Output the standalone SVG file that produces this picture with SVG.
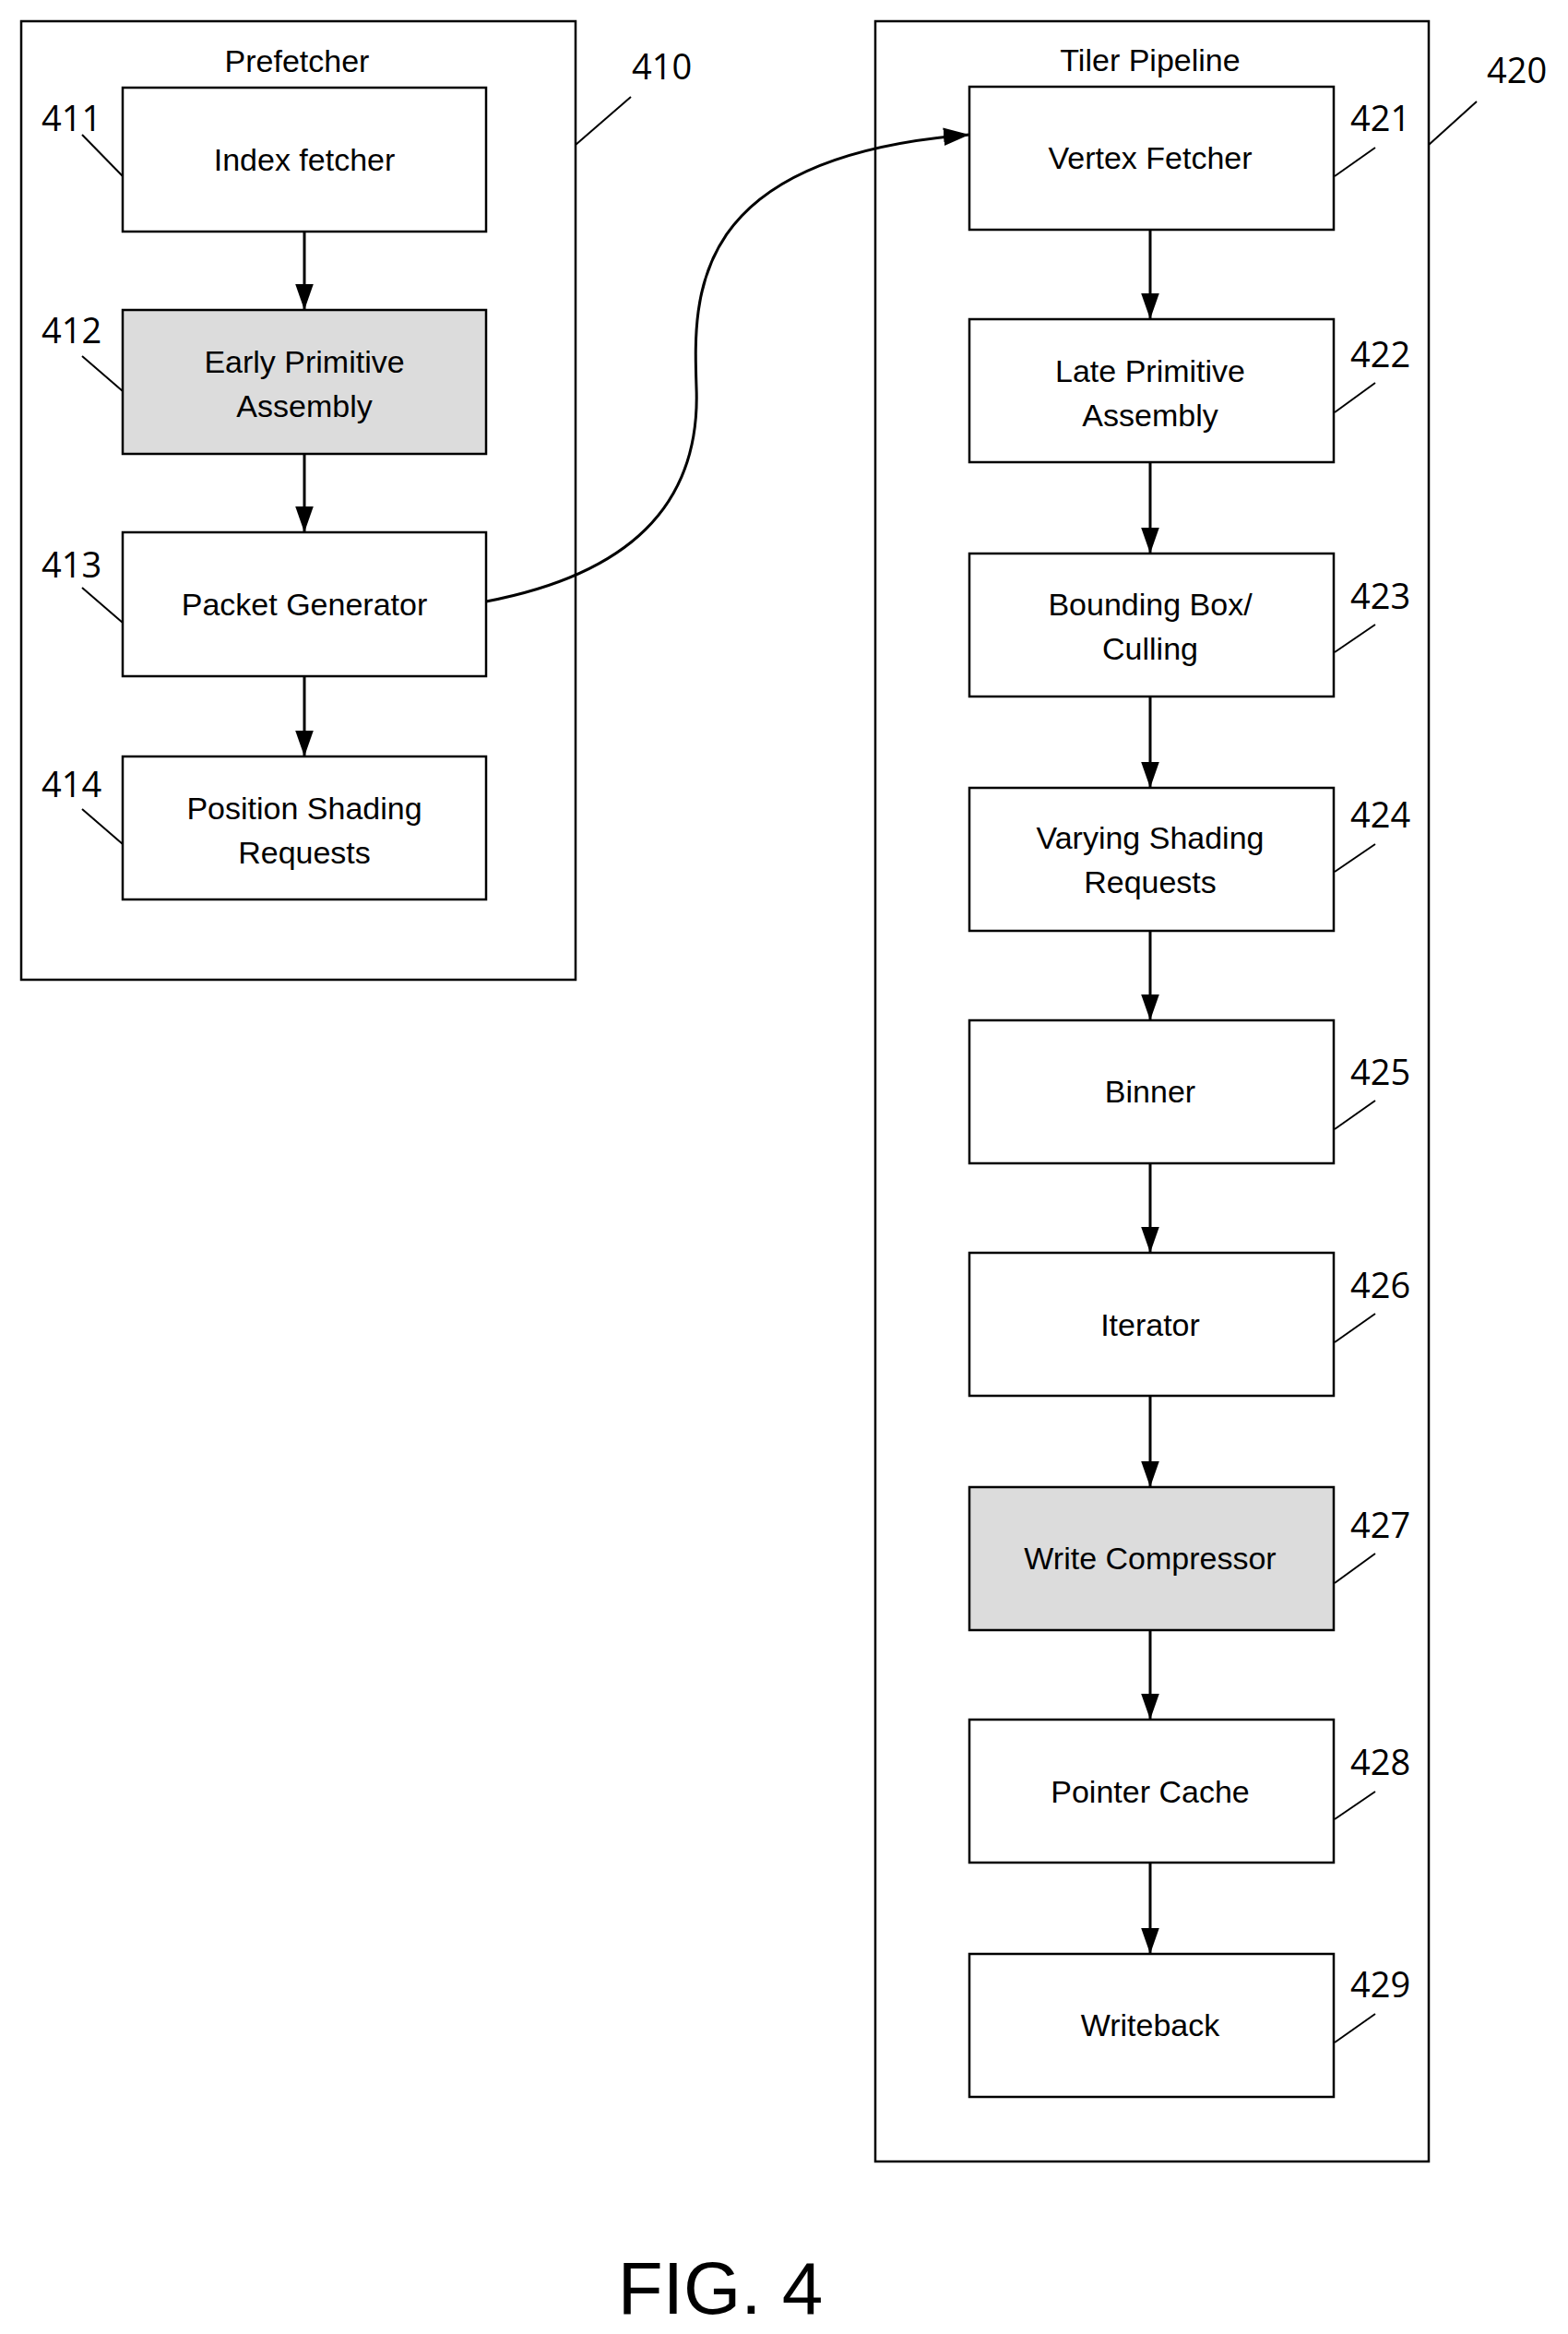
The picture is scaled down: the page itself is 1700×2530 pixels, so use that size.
<svg xmlns="http://www.w3.org/2000/svg" width="1700" height="2530" viewBox="0 0 1700 2530">
<style>
.box{fill:#fff;stroke:#000;stroke-width:2.5}
.gray{fill:#dcdcdc}
.t{font-family:"Liberation Sans",Arial,sans-serif;font-size:34px;text-anchor:middle;fill:#000}
.n{font-family:"Open Sans","DejaVu Sans",sans-serif;font-size:38px;fill:#000}
.ld{stroke:#000;stroke-width:2;fill:none}
.c{stroke:#000;stroke-width:3;fill:none}
</style>
<defs><marker id="ah" viewBox="0 0 10 10" refX="10" refY="5" markerWidth="9" markerHeight="9" markerUnits="userSpaceOnUse" orient="auto"><path d="M0,0L10,5L0,10z"/></marker>
<marker id="a" viewBox="0 0 10 10" refX="10" refY="5" markerWidth="28" markerHeight="28" markerUnits="userSpaceOnUse" orient="auto"><path d="M0,1.5L10,5L0,8.5z"/></marker></defs>
<rect fill="#fff" width="1700" height="2530"/>
<g id="prefetcher"><rect class="box" x="23" y="23" width="601" height="1039"/><text class="t" x="322" y="78">Prefetcher</text><text class="n" x="685" y="86">410</text><line class="ld" x1="684" y1="105" x2="624" y2="157"/></g>
<g id="tiler"><rect class="box" x="949" y="23" width="600" height="2320"/><text class="t" x="1247" y="77">Tiler Pipeline</text><text class="n" x="1612" y="90">420</text><line class="ld" x1="1601" y1="110" x2="1549" y2="157"/></g>
<g id="n411"><rect class="box" x="133" y="95" width="394" height="156"/><text class="t" x="330" y="185">Index fetcher</text><text class="n" x="45" y="142">411</text><line class="ld" x1="89" y1="146" x2="133" y2="191"/></g>
<g id="n412"><rect class="box gray" x="133" y="336" width="394" height="156"/><text class="t" x="330" y="404">Early Primitive</text><text class="t" x="330" y="452">Assembly</text><text class="n" x="45" y="372">412</text><line class="ld" x1="89" y1="386" x2="133" y2="424"/></g>
<g id="n413"><rect class="box" x="133" y="577" width="394" height="156"/><text class="t" x="330" y="667">Packet Generator</text><text class="n" x="45" y="626">413</text><line class="ld" x1="89" y1="637" x2="133" y2="675"/></g>
<g id="n414"><rect class="box" x="133" y="820" width="394" height="155"/><text class="t" x="330" y="888">Position Shading</text><text class="t" x="330" y="936">Requests</text><text class="n" x="45" y="864">414</text><line class="ld" x1="89" y1="877" x2="133" y2="915"/></g>
<g id="n421"><rect class="box" x="1051" y="94" width="395" height="155"/><text class="t" x="1247" y="183">Vertex Fetcher</text><text class="n" x="1464" y="142">421</text><line class="ld" x1="1491" y1="160" x2="1447" y2="191"/></g>
<g id="n422"><rect class="box" x="1051" y="346" width="395" height="155"/><text class="t" x="1247" y="414">Late Primitive</text><text class="t" x="1247" y="462">Assembly</text><text class="n" x="1464" y="398">422</text><line class="ld" x1="1491" y1="415" x2="1447" y2="447"/></g>
<g id="n423"><rect class="box" x="1051" y="600" width="395" height="155"/><text class="t" x="1247" y="667">Bounding Box/</text><text class="t" x="1247" y="715">Culling</text><text class="n" x="1464" y="660">423</text><line class="ld" x1="1491" y1="677" x2="1447" y2="707"/></g>
<g id="n424"><rect class="box" x="1051" y="854" width="395" height="155"/><text class="t" x="1247" y="920">Varying Shading</text><text class="t" x="1247" y="968">Requests</text><text class="n" x="1464" y="897">424</text><line class="ld" x1="1491" y1="915" x2="1447" y2="945"/></g>
<g id="n425"><rect class="box" x="1051" y="1106" width="395" height="155"/><text class="t" x="1247" y="1195">Binner</text><text class="n" x="1464" y="1176">425</text><line class="ld" x1="1491" y1="1193" x2="1447" y2="1224"/></g>
<g id="n426"><rect class="box" x="1051" y="1358" width="395" height="155"/><text class="t" x="1247" y="1448">Iterator</text><text class="n" x="1464" y="1407">426</text><line class="ld" x1="1491" y1="1424" x2="1447" y2="1455"/></g>
<g id="n427"><rect class="box gray" x="1051" y="1612" width="395" height="155"/><text class="t" x="1247" y="1701">Write Compressor</text><text class="n" x="1464" y="1667">427</text><line class="ld" x1="1491" y1="1684" x2="1447" y2="1716"/></g>
<g id="n428"><rect class="box" x="1051" y="1864" width="395" height="155"/><text class="t" x="1247" y="1954">Pointer Cache</text><text class="n" x="1464" y="1924">428</text><line class="ld" x1="1491" y1="1942" x2="1447" y2="1972"/></g>
<g id="n429"><rect class="box" x="1051" y="2118" width="395" height="155"/><text class="t" x="1247" y="2207">Writeback</text><text class="n" x="1464" y="2165">429</text><line class="ld" x1="1491" y1="2183" x2="1447" y2="2214"/></g>
<g id="connectors">
<line class="c" x1="330" y1="251" x2="330" y2="336" marker-end="url(#a)"/>
<line class="c" x1="330" y1="492" x2="330" y2="577" marker-end="url(#a)"/>
<line class="c" x1="330" y1="733" x2="330" y2="820" marker-end="url(#a)"/>
<path class="c" d="M527,652 C679,623 760,550 755,420 C752,323 744,170 1051,146" marker-end="url(#a)"/>
<line class="c" x1="1247" y1="249" x2="1247" y2="346" marker-end="url(#a)"/>
<line class="c" x1="1247" y1="501" x2="1247" y2="600" marker-end="url(#a)"/>
<line class="c" x1="1247" y1="755" x2="1247" y2="854" marker-end="url(#a)"/>
<line class="c" x1="1247" y1="1009" x2="1247" y2="1106" marker-end="url(#a)"/>
<line class="c" x1="1247" y1="1261" x2="1247" y2="1358" marker-end="url(#a)"/>
<line class="c" x1="1247" y1="1513" x2="1247" y2="1612" marker-end="url(#a)"/>
<line class="c" x1="1247" y1="1767" x2="1247" y2="1864" marker-end="url(#a)"/>
<line class="c" x1="1247" y1="2019" x2="1247" y2="2118" marker-end="url(#a)"/>
</g>
<text x="781" y="2508" font-family="Liberation Sans,Arial,sans-serif" font-size="80" text-anchor="middle">FIG. 4</text>
</svg>
